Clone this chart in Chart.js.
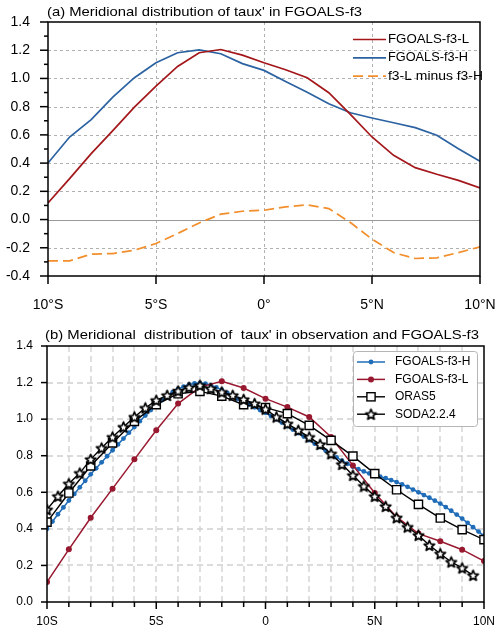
<!DOCTYPE html>
<html>
<head>
<meta charset="utf-8">
<script src="https://cdn.jsdelivr.net/npm/chart.js@4.4.0/dist/chart.umd.min.js"></script>
<style>
  body { margin: 0; background: #fff; width: 500px; height: 629px; overflow: hidden; position: relative; }
  canvas { position: absolute; left: 0; }
  #c1 { top: 0; }
  #c2 { top: 318px; }
</style>
</head>
<body>
<canvas id="c1" width="500" height="318"></canvas>
<canvas id="c2" width="500" height="311"></canvas>
<script>
// ---- data (panel a: 1 degree) ----
const lat = [-10, -9, -8, -7, -6, -5, -4, -3, -2, -1, 0, 1, 2, 3, 4, 5, 6, 7, 8, 9, 10];
const f3L_a = [0.118, 0.29, 0.467, 0.63, 0.797, 0.946, 1.085, 1.182, 1.205, 1.165, 1.111, 1.062, 1.005, 0.899, 0.745, 0.585, 0.455, 0.368, 0.321, 0.278, 0.224];
const f3H_a = [0.401, 0.585, 0.708, 0.868, 1.005, 1.111, 1.182, 1.203, 1.175, 1.105, 1.057, 0.979, 0.903, 0.821, 0.757, 0.72, 0.686, 0.651, 0.597, 0.502, 0.413];
const diff_a = [-0.293, -0.293, -0.245, -0.241, -0.217, -0.17, -0.099, -0.024, 0.038, 0.059, 0.066, 0.09, 0.104, 0.078, -0.021, -0.139, -0.234, -0.276, -0.271, -0.234, -0.193];

// ---- data (panel b) ----
const latQ = Array.from({ length: 81 }, (_, i) => -10 + i * 0.25);   // 0.25 deg grid
const latHalf = Array.from({ length: 40 }, (_, i) => -10 + i * 0.5); // 0.5 deg grid
const f3H_b = [0.40, 0.44, 0.48, 0.517, 0.555, 0.591, 0.627, 0.663, 0.698, 0.731, 0.764, 0.797, 0.83, 0.862, 0.894, 0.926,
  0.957, 0.989, 1.02, 1.05, 1.08, 1.104, 1.127, 1.147, 1.165, 1.178, 1.189, 1.195, 1.197, 1.194, 1.186, 1.174,
  1.16, 1.144, 1.128, 1.111, 1.095, 1.08, 1.065, 1.05, 1.035, 1.017, 0.999, 0.981, 0.962, 0.943, 0.924, 0.905,
  0.885, 0.866, 0.847, 0.828, 0.81, 0.791, 0.773, 0.756, 0.74, 0.726, 0.714, 0.703, 0.694, 0.685, 0.677, 0.667,
  0.656, 0.643, 0.63, 0.615, 0.60, 0.585, 0.57, 0.554, 0.538, 0.519, 0.499, 0.478, 0.456, 0.433, 0.409, 0.385, 0.362];
const f3L_b = [0.109, 0.288, 0.461, 0.62, 0.78, 0.939, 1.085, 1.175, 1.207, 1.17, 1.112, 1.066, 1.012, 0.902, 0.747, 0.596, 0.465, 0.374, 0.332, 0.286, 0.224];
const oras5 = [0.437, 0.596, 0.744, 0.87, 0.988, 1.079, 1.139, 1.152, 1.126, 1.079, 1.063, 1.03, 0.966, 0.884, 0.798, 0.702, 0.614, 0.534, 0.459, 0.396, 0.341];
const soda = [0.505, 0.578, 0.647, 0.705, 0.78, 0.842, 0.902, 0.957, 1.012, 1.061, 1.103, 1.13, 1.154, 1.174, 1.185, 1.167,
  1.148, 1.13, 1.108, 1.085, 1.055, 1.012, 0.975, 0.939, 0.902, 0.862, 0.811, 0.753, 0.693, 0.634, 0.578, 0.523,
  0.461, 0.41, 0.365, 0.31, 0.264, 0.219, 0.186, 0.146];

const FONT = "'Liberation Sans', Arial, Helvetica, sans-serif";
const pts = (xs, ys) => xs.map((x, i) => ({ x, y: ys[i] }));
const fmt1 = v => (Math.abs(v) < 1e-9 ? '0.0' : v.toFixed(1));

// open five-point star marker
function makeStar(r) {
  const c = document.createElement('canvas');
  const s = Math.ceil(r * 2 + 4);
  c.width = c.height = s;
  const g = c.getContext('2d');
  g.translate(s / 2, s / 2 + 0.5);
  g.beginPath();
  for (let i = 0; i < 10; i++) {
    const rr = i % 2 ? r * 0.45 : r;
    const a = -Math.PI / 2 + i * Math.PI / 5;
    g.lineTo(rr * Math.cos(a), rr * Math.sin(a));
  }
  g.closePath();
  g.fillStyle = '#fff';
  g.fill();
  g.strokeStyle = '#000';
  g.lineWidth = 1.7;
  g.lineJoin = 'round';
  g.stroke();
  return c;
}
const star = makeStar(5.5);

function hline(ctx, area, y) { ctx.beginPath(); ctx.moveTo(area.left, y); ctx.lineTo(area.right, y); ctx.stroke(); }
function vline(ctx, area, x) { ctx.beginPath(); ctx.moveTo(x, area.top); ctx.lineTo(x, area.bottom); ctx.stroke(); }

// text stretched horizontally to a given width (reference font is wide)
function wideText(ctx, str, x, y, width) {
  const w = ctx.measureText(str).width;
  ctx.save();
  ctx.translate(x, y);
  ctx.scale(width / w, 1);
  ctx.fillText(str, 0, 0);
  ctx.restore();
}
const noPad = s => { s.paddingLeft = 0; s.paddingRight = 0; s.paddingTop = 0; s.paddingBottom = 0; };

// ---------- panel (a) ----------
const decorA = {
  id: 'decorA',
  beforeDatasetsDraw(chart) {
    const { ctx, chartArea: a, scales: { x, y } } = chart;
    ctx.save();
    ctx.strokeStyle = '#b0b0b0';
    ctx.lineWidth = 1;
    ctx.setLineDash([3, 3]);
    y.ticks.forEach(t => {
      if (t.value > y.min + 1e-6 && t.value < y.max - 1e-6 && Math.abs(t.value) > 1e-6) hline(ctx, a, Math.round(y.getPixelForValue(t.value)) + 0.5);
    });
    x.ticks.forEach(t => {
      if (t.value > x.min && t.value < x.max) vline(ctx, a, Math.round(x.getPixelForValue(t.value)) + 0.5);
    });
    ctx.setLineDash([]);
    ctx.strokeStyle = '#999';
    hline(ctx, a, Math.round(y.getPixelForValue(0)) + 0.5);
    ctx.restore();
  },
  afterDraw(chart) {
    const { ctx, chartArea: a, scales: { x, y } } = chart;
    ctx.save();
    ctx.strokeStyle = '#000';
    ctx.lineWidth = 1.5;
    ctx.strokeRect(a.left, a.top, a.right - a.left, a.bottom - a.top);
    const yt = y.ticks.map(t => t.value);
    yt.forEach((v, i) => {
      const py = y.getPixelForValue(v);
      ctx.beginPath(); ctx.moveTo(a.left - 8, py); ctx.lineTo(a.left, py); ctx.stroke();
      if (i < yt.length - 1) {
        const pm = y.getPixelForValue((v + yt[i + 1]) / 2);
        ctx.beginPath(); ctx.moveTo(a.left - 4, pm); ctx.lineTo(a.left, pm); ctx.stroke();
      }
    });
    x.ticks.forEach(t => {
      const px = x.getPixelForValue(t.value);
      ctx.beginPath(); ctx.moveTo(px, a.bottom); ctx.lineTo(px, a.bottom + 8); ctx.stroke();
    });
    // legend
    ctx.font = '13px ' + FONT;
    ctx.textBaseline = 'middle';
    ctx.fillStyle = '#000';
    const legW = [81, 80, 95];
    chart.data.datasets.forEach((ds, i) => {
      const ly = 39.5 + i * 18.3;
      ctx.strokeStyle = ds.borderColor;
      ctx.lineWidth = ds.borderWidth;
      ctx.setLineDash(ds.borderDash || []);
      ctx.beginPath(); ctx.moveTo(353, ly); ctx.lineTo(386, ly); ctx.stroke();
      ctx.setLineDash([]);
      wideText(ctx, ds.label, 388, ly, legW[i]);
    });
    // title
    ctx.font = '13.5px ' + FONT;
    ctx.textBaseline = 'alphabetic';
    wideText(ctx, "(a) Meridional distribution of taux' in FGOALS-f3", 47, 16, 315);
    ctx.restore();
  }
};

new Chart(document.getElementById('c1'), {
  type: 'line',
  data: {
    datasets: [
      { label: 'FGOALS-f3-L', data: pts(lat, f3L_a), borderColor: '#a3171b', borderWidth: 1.7, pointRadius: 0, order: 1 },
      { label: 'FGOALS-f3-H', data: pts(lat, f3H_a), borderColor: '#2b62a1', borderWidth: 1.7, pointRadius: 0, order: 2 },
      { label: 'f3-L minus f3-H', data: pts(lat, diff_a), borderColor: '#f28e2b', borderWidth: 1.7, borderDash: [10, 5], pointRadius: 0, order: 3 }
    ]
  },
  options: {
    responsive: false, animation: false, devicePixelRatio: 1,
    layout: { padding: { top: 22, right: 20, left: 0, bottom: 0 } },
    plugins: { legend: { display: false }, tooltip: { enabled: false } },
    scales: {
      x: {
        type: 'linear', min: -10, max: 10,
        afterFit: s => { s.height = 42; noPad(s); },
        grid: { display: false, drawTicks: false }, border: { display: false },
        ticks: {
          stepSize: 5, padding: 21, color: '#000', maxRotation: 0, autoSkip: false,
          font: { family: FONT, size: 14 },
          callback: v => (v < 0 ? (-v) + '°S' : v > 0 ? v + '°N' : '0°')
        }
      },
      y: {
        min: -0.4, max: 1.4,
        afterFit: s => { s.width = 48; noPad(s); },
        grid: { display: false, drawTicks: false }, border: { display: false },
        ticks: { stepSize: 0.2, padding: 18, color: '#000', font: { family: FONT, size: 14 }, callback: fmt1 }
      }
    }
  },
  plugins: [decorA]
});

// ---------- panel (b) ----------
const decorB = {
  id: 'decorB',
  beforeDatasetsDraw(chart) {
    const { ctx, chartArea: a, scales: { x, y } } = chart;
    ctx.save();
    ctx.strokeStyle = '#cfcfcf';
    ctx.lineWidth = 1.3;
    ctx.setLineDash([6, 4]);
    y.ticks.forEach(t => {
      if (t.value > y.min + 1e-6 && t.value < y.max - 1e-6) hline(ctx, a, Math.round(y.getPixelForValue(t.value)));
    });
    for (let v = Math.ceil(x.min) + 1; v < x.max; v++) vline(ctx, a, Math.round(x.getPixelForValue(v)));
    ctx.restore();
  },
  afterDraw(chart) {
    const { ctx, chartArea: a, scales: { x, y } } = chart;
    ctx.save();
    ctx.strokeStyle = '#000';
    ctx.lineWidth = 1.5;
    ctx.strokeRect(a.left, a.top, a.right - a.left, a.bottom - a.top);
    y.ticks.forEach(t => {
      const py = y.getPixelForValue(t.value);
      ctx.beginPath(); ctx.moveTo(a.left - 6, py); ctx.lineTo(a.left, py); ctx.stroke();
    });
    for (let v = x.min; v <= x.max; v++) {
      const px = x.getPixelForValue(v);
      const len = v % 5 === 0 ? 7 : 5;
      ctx.beginPath(); ctx.moveTo(px, a.bottom); ctx.lineTo(px, a.bottom + len); ctx.stroke();
    }
    // legend box
    const bx = 353, by = 33, bw = 124, bh = 75;
    ctx.fillStyle = '#fff';
    ctx.strokeStyle = '#b5b5b5';
    ctx.lineWidth = 1;
    ctx.beginPath();
    ctx.roundRect(bx + 0.5, by + 0.5, bw, bh, 3);
    ctx.fill(); ctx.stroke();
    ctx.font = '12px ' + FONT;
    ctx.textBaseline = 'middle';
    chart.data.datasets.forEach((ds, i) => {
      const ly = 44 + i * 17.4;
      ctx.strokeStyle = ds.borderColor;
      ctx.lineWidth = ds.borderWidth;
      ctx.beginPath(); ctx.moveTo(357, ly); ctx.lineTo(385, ly); ctx.stroke();
      const cx = 371;
      if (ds.pointStyle === 'rect') {
        const s = ds.pointRadius * Math.SQRT1_2;
        ctx.fillStyle = '#fff';
        ctx.lineWidth = ds.pointBorderWidth;
        ctx.strokeStyle = '#000';
        ctx.fillRect(cx - s, ly - s, 2 * s, 2 * s);
        ctx.strokeRect(cx - s, ly - s, 2 * s, 2 * s);
      } else if (ds.pointStyle instanceof HTMLCanvasElement) {
        ctx.drawImage(ds.pointStyle, cx - ds.pointStyle.width / 2, ly - ds.pointStyle.height / 2);
      } else {
        ctx.fillStyle = ds.pointBackgroundColor;
        ctx.beginPath(); ctx.arc(cx, ly, ds.pointRadius, 0, Math.PI * 2); ctx.fill();
      }
      ctx.fillStyle = '#000';
      ctx.fillText(ds.label, 395, ly);
    });
    // title
    ctx.font = '13.5px ' + FONT;
    ctx.textBaseline = 'alphabetic';
    wideText(ctx, "(b) Meridional  distribution of  taux' in observation and FGOALS-f3", 45, 21, 434);
    ctx.restore();
  }
};

new Chart(document.getElementById('c2'), {
  type: 'line',
  data: {
    datasets: [
      { label: 'FGOALS-f3-H', data: pts(latQ, f3H_b), borderColor: '#1f6cb8', borderWidth: 1.5,
        pointRadius: 2.4, pointBorderWidth: 0, pointBackgroundColor: '#1f6cb8', order: 4 },
      { label: 'FGOALS-f3-L', data: pts(lat, f3L_b), borderColor: '#98192f', borderWidth: 1.5,
        pointRadius: 3, pointBorderWidth: 0, pointBackgroundColor: '#98192f', order: 3 },
      { label: 'ORAS5', data: pts(lat, oras5), borderColor: '#000', borderWidth: 1.4, pointStyle: 'rect',
        pointRadius: 5.8, pointBorderWidth: 1.4, pointBorderColor: '#000', pointBackgroundColor: '#fff', order: 2 },
      { label: 'SODA2.2.4', data: pts(latHalf, soda), borderColor: '#000', borderWidth: 1.4, pointStyle: star,
        pointRadius: 5, order: 1 }
    ]
  },
  options: {
    responsive: false, animation: false, devicePixelRatio: 1,
    layout: { padding: { top: 28, right: 16, left: 0, bottom: 0 } },
    plugins: { legend: { display: false }, tooltip: { enabled: false } },
    scales: {
      x: {
        type: 'linear', min: -10, max: 10,
        afterFit: s => { s.height = 27; noPad(s); },
        grid: { display: false, drawTicks: false }, border: { display: false },
        ticks: {
          stepSize: 5, padding: 12, color: '#000', maxRotation: 0, autoSkip: false,
          font: { family: FONT, size: 12 },
          callback: v => (v < 0 ? (-v) + 'S' : v > 0 ? v + 'N' : '0')
        }
      },
      y: {
        min: 0, max: 1.4,
        afterFit: s => { s.width = 47; noPad(s); },
        grid: { display: false, drawTicks: false }, border: { display: false },
        ticks: { stepSize: 0.2, padding: 14, color: '#000', font: { family: FONT, size: 12 }, callback: fmt1 }
      }
    }
  },
  plugins: [decorB]
});
</script>
</body>
</html>
